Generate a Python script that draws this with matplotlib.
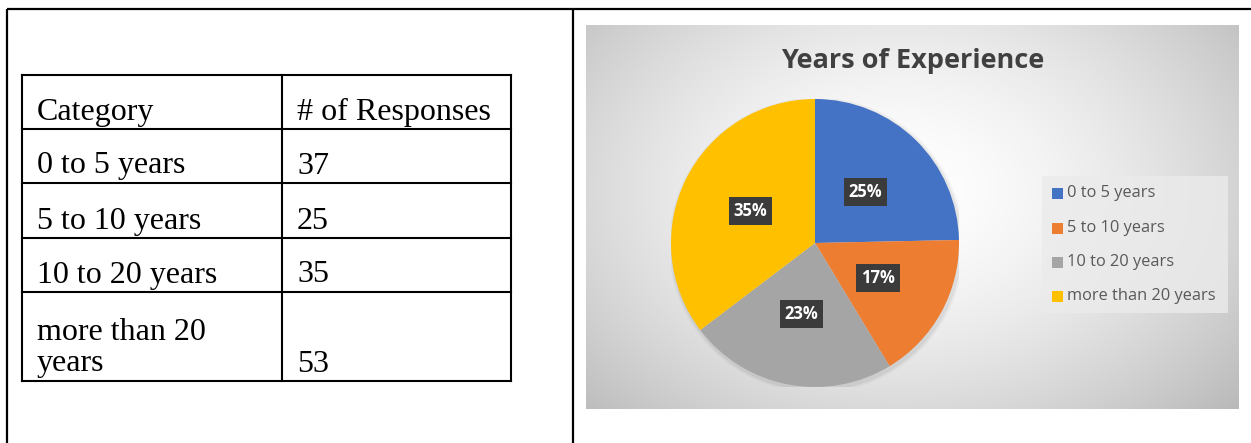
import numpy as np
import matplotlib
matplotlib.use("Agg")
import matplotlib.pyplot as plt
from matplotlib.patches import Rectangle

# ---- data ----
categories = ["0 to 5 years", "5 to 10 years", "10 to 20 years", "more than 20 years"]
table_labels = ["0 to 5 years", "5 to 10 years", "10 to 20 years", "more than 20\nyears"]
responses = [37, 25, 35, 53]
header = ["Category", "# of Responses"]
title = "Years of Experience"
colors = ["#4472C4", "#ED7D31", "#A5A5A5", "#FFC000"]

W, H = 1251, 443
fig = plt.figure(figsize=(W / 100, H / 100), dpi=100)
fig.patch.set_facecolor("white")

# full-figure pixel axes
base = fig.add_axes([0, 0, 1, 1])
base.set_xlim(0, W)
base.set_ylim(H, 0)
base.axis("off")

# outer document table borders
lw_out = 1.6
base.plot([7, W], [9, 9], color="black", lw=lw_out, solid_capstyle="butt")
base.plot([7, 7], [9, H], color="black", lw=lw_out, solid_capstyle="butt")
base.plot([573, 573], [9, H], color="black", lw=lw_out, solid_capstyle="butt")

# left data table
serif = "Liberation Serif"
tx0, tx1, tx2 = 22, 282, 511
row_edges = [75, 129, 183, 238, 292, 381]
lw_t = 1.5
for y in row_edges:
    base.plot([tx0, tx2], [y, y], color="black", lw=lw_t, solid_capstyle="projecting")
for x in (tx0, tx1, tx2):
    base.plot([x, x], [row_edges[0], row_edges[-1]], color="black", lw=lw_t, solid_capstyle="projecting")

fs_t = 23
rows = [header] + [[lab, str(v)] for lab, v in zip(table_labels, responses)]
for i, (a, b) in enumerate(rows):
    ybase = row_edges[i + 1] - 9.5
    base.text(37, ybase, a, family=serif, fontsize=fs_t, ha="left", va="baseline",
              linespacing=1.12)
    base.text(297, ybase, b, family=serif, fontsize=fs_t, ha="left", va="baseline")

# chart background (radial light gradient)
gx0, gx1, gy0, gy1 = 586, 1239, 25, 409
nx, ny = 400, 240
xs = np.linspace(gx0, gx1, nx)
ys = np.linspace(gy0, gy1, ny)
XX, YY = np.meshgrid(xs, ys)
d = np.sqrt(((XX - 900) / 420) ** 2 + ((YY - 190) / 300) ** 2)
val = 1.0 - 0.24 * np.clip(d, 0, 1.3) ** 1.6
img = np.dstack([val, val, val])
base.imshow(img, extent=[gx0, gx1, gy1, gy0], origin="upper", aspect="auto",
            interpolation="bilinear", zorder=0)
base.set_xlim(0, W)
base.set_ylim(H, 0)

# title
base.text(913, 61, title, fontsize=19.5, fontweight="bold", color="#404040",
          ha="center", va="center", family=["Open Sans", "DejaVu Sans"])

# pie
cx, cy, r = 815, 243, 144
pax = fig.add_axes([(cx - r) / W, (H - cy - r) / H, 2 * r / W, 2 * r / H])
pax.set_facecolor("none")
pax.patch.set_alpha(0)
# soft shadow
for k, a in zip([1.025, 1.012], [0.04, 0.05]):
    pax.add_patch(plt.Circle((0.01, -0.015), k, color="black", alpha=a, lw=0, zorder=0))
wedges, texts, autotexts = pax.pie(
    responses, colors=colors, startangle=90, counterclock=False,
    autopct=lambda p: f"{p:.0f}%", pctdistance=0.5, radius=1.0,
    wedgeprops=dict(linewidth=0),
    textprops=dict(color="white", fontsize=12, fontweight="bold",
                   family=["Open Sans", "DejaVu Sans"]))
for t in autotexts:
    t.set_bbox(dict(boxstyle="square,pad=0.3", facecolor="#3b3b3b", edgecolor="none"))
pax.set_xlim(-1, 1)
pax.set_ylim(-1, 1)
pax.set_aspect("equal")
pax.axis("off")

# legend
base.add_patch(Rectangle((1042, 176), 186, 137, facecolor="#ebebeb", edgecolor="none",
                         alpha=0.8, zorder=1))
leg_y = [193, 228, 262, 296]
for c, lab, y in zip(colors, categories, leg_y):
    base.add_patch(Rectangle((1052, y - 5.5), 11, 11, facecolor=c, edgecolor="none", zorder=2))
    base.text(1067, y, lab, fontsize=11.8, color="#595959", ha="left", va="center",
              family=["Open Sans", "DejaVu Sans"], zorder=3)

fig.savefig("out.png", dpi=100)
